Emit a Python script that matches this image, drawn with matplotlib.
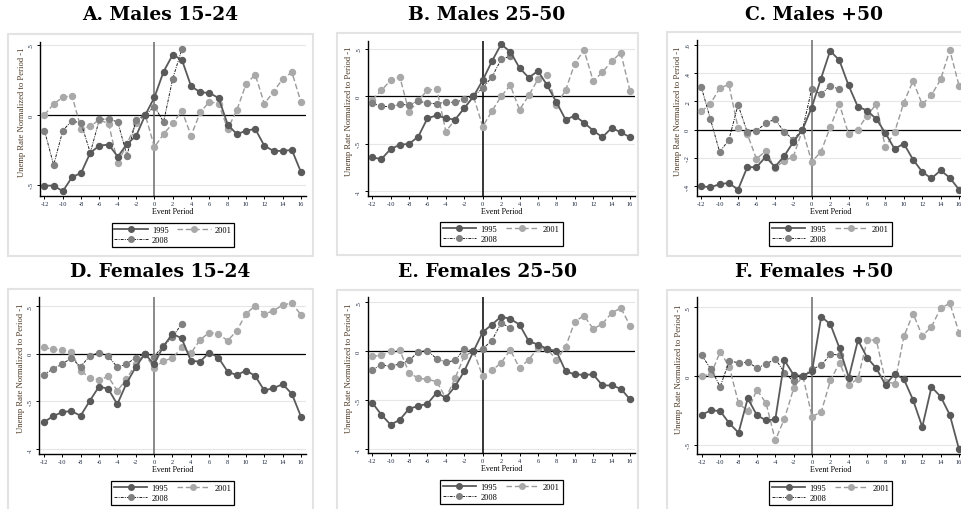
import matplotlib.pyplot as plt
from matplotlib.patches import Rectangle
from matplotlib.lines import Line2D

# --------- data --------------------------------
periods = [-12, -11, -10, -9, -8, -7, -6, -5, -4, -3, -2, -1, 0,
           1, 2, 3, 4, 5, 6, 7, 8, 9, 10, 11, 12, 13, 14, 15, 16]
periods_2008 = periods[:16]   # 2008 series stops at period 3

a_1995 = [-0.505, -0.505, -0.545, -0.445, -0.414, -0.27, -0.219, -0.212, -0.298, -0.207, -0.15, 0,
          0.126, 0.31, 0.43, 0.393, 0.205, 0.162, 0.157, 0.121, -0.069, -0.138, -0.112, -0.1,
          -0.221, -0.257, -0.257, -0.25, -0.41]
a_2001 = [0, 0.079, 0.126, 0.138, -0.1, -0.081, -0.033, -0.064, -0.345, -0.207, -0.06, 0,
          -0.23, -0.136, -0.06, 0.03, -0.148, 0.019, 0.095, 0.079, -0.1, 0.036, 0.221, 0.288,
          0.079, 0.167, 0.257, 0.305, 0.09]
a_2008 = [-0.112, -0.357, -0.112, -0.04, -0.06, -0.27, -0.03, -0.03, -0.05, -0.29, -0.035, 0,
          0.06, -0.05, 0.26, 0.47]

b_1995 = [-0.643, -0.66, -0.555, -0.509, -0.5, -0.424, -0.23, -0.2, -0.23, -0.244, -0.124, 0,
          0.17, 0.37, 0.55, 0.47, 0.3, 0.198, 0.268, 0.117, -0.06, -0.244, -0.205, -0.276,
          -0.36, -0.43, -0.332, -0.378, -0.43]
b_2001 = [-0.035, 0.064, 0.17, 0.205, -0.163, -0.042, 0.064, 0.081, -0.37, -0.244, -0.124, 0,
          -0.318, -0.155, 0, 0.117, -0.141, 0.01, 0.18, 0.223, -0.088, 0.064, 0.346, 0.488,
          0.163, 0.254, 0.37, 0.459, 0.057]
b_2008 = [-0.07, -0.106, -0.106, -0.085, -0.088, -0.05, -0.07, -0.077, -0.06, -0.064, -0.03, 0,
          0.088, 0.205, 0.389, 0.424]

c_1995 = [-0.399, -0.408, -0.385, -0.377, -0.424, -0.265, -0.265, -0.192, -0.263, -0.188, -0.087, 0,
          0.157, 0.36, 0.558, 0.492, 0.314, 0.164, 0.136, 0.077, -0.023, -0.136, -0.098, -0.211,
          -0.298, -0.345, -0.288, -0.34, -0.424]
c_2001 = [0.129, 0.183, 0.293, 0.321, 0.012, -0.03, -0.206, -0.152, -0.272, -0.22, -0.192, 0,
          -0.227, -0.157, 0.016, 0.183, -0.03, 0, 0.1, 0.18, -0.124, -0.019, 0.192, 0.345,
          0.18, 0.244, 0.356, 0.563, 0.312]
c_2008 = [0.305, 0.075, -0.157, -0.073, 0.176, -0.016, -0.007, 0.045, 0.075, -0.014, -0.07, 0,
          0.288, 0.251, 0.31, 0.286]

d_1995 = [-0.72, -0.655, -0.613, -0.6, -0.652, -0.495, -0.345, -0.366, -0.53, -0.31, -0.14, 0,
          -0.109, 0.077, 0.21, 0.165, -0.07, -0.084, 0.014, -0.039, -0.186, -0.224, -0.175, -0.231,
          -0.385, -0.36, -0.319, -0.42, -0.662]
d_2001 = [0.067, 0.049, 0.039, 0.021, -0.179, -0.249, -0.273, -0.238, -0.389, -0.266, -0.105, 0,
          -0.15, -0.074, -0.046, 0.067, 0.005, 0.147, 0.224, 0.214, 0.137, 0.242, 0.42, 0.505,
          0.42, 0.452, 0.515, 0.533, 0.41]
d_2008 = [-0.22, -0.158, -0.105, -0.046, -0.133, -0.025, 0.014, -0.021, -0.14, -0.109, -0.039, 0,
          -0.028, 0.084, 0.175, 0.315]

e_1995 = [-0.527, -0.65, -0.752, -0.701, -0.588, -0.561, -0.537, -0.425, -0.476, -0.36, -0.204, 0,
          0.194, 0.272, 0.354, 0.33, 0.272, 0.102, 0.068, 0.024, 0, -0.204, -0.238, -0.241,
          -0.238, -0.35, -0.35, -0.384, -0.493]
e_2001 = [-0.051, -0.044, 0, 0.01, -0.221, -0.276, -0.289, -0.31, -0.48, -0.276, -0.051, 0,
          -0.255, -0.197, -0.119, 0.014, -0.173, -0.085, 0.031, 0.024, -0.088, 0.041, 0.303, 0.364,
          0.228, 0.279, 0.391, 0.442, 0.262]
e_2008 = [-0.19, -0.139, -0.156, -0.129, -0.095, -0.007, 0.007, -0.078, -0.112, -0.095, 0.024, 0,
          0.024, 0.109, 0.289, 0.238]

f_1995 = [-0.282, -0.25, -0.255, -0.345, -0.413, -0.163, -0.286, -0.323, -0.316, 0.114, 0.007, 0,
          0.036, 0.432, 0.376, 0.201, -0.012, 0.262, 0.133, 0.056, -0.066, 0.017, -0.024, -0.175,
          -0.371, -0.08, -0.15, -0.284, -0.534]
f_2001 = [0, 0.012, 0.177, 0.066, -0.199, -0.255, -0.1, -0.199, -0.468, -0.311, -0.09, 0,
          -0.296, -0.262, -0.032, 0.097, -0.066, -0.019, 0.26, 0.262, -0.041, -0.056, 0.289, 0.454,
          0.291, 0.359, 0.493, 0.53, 0.316]
f_2008 = [0.15, 0.05, -0.078, 0.11, 0.096, 0.1, 0.06, 0.085, 0.126, 0.024, -0.04, 0,
          0.05, 0.078, 0.158, 0.153]

titles = ["A. Males 15-24", "B. Males 25-50", "C. Males +50",
          "D. Females 15-24", "E. Females 25-50", "F. Females +50"]
series = [(a_1995, a_2001, a_2008), (b_1995, b_2001, b_2008), (c_1995, c_2001, c_2008),
          (d_1995, d_2001, d_2008), (e_1995, e_2001, e_2008), (f_1995, f_2001, f_2008)]
yticks = [[-0.5, 0, 0.5], [-1, -0.5, 0, 0.5], [-0.4, -0.2, 0, 0.2, 0.4, 0.6],
          [-1, -0.5, 0, 0.5], [-1, -0.5, 0, 0.5], [-0.5, 0, 0.5]]
ylims = [(-0.579, 0.521), (-1.046, 0.587), (-0.467, 0.635),
         (-1.053, 0.598), (-1.044, 0.551), (-0.568, 0.573)]
xticks = [-12, -10, -8, -6, -4, -2, 0, 2, 4, 6, 8, 10, 12, 14, 16]

# --------- layout in pixels ----------
W, H = 961, 510
# axes rect: left, top, right, bottom
ax_px = [(40, 43, 306, 197), (367.7, 41.7, 635, 196.7), (696.7, 41, 964, 196.7),
         (39.3, 298, 306, 455), (367.7, 298.3, 635, 454.3), (697.3, 298.3, 964, 455)]
box_px = [(8, 35, 313, 257), (337, 34, 638, 256), (667, 33, 968, 257),
          (8, 290, 313, 512), (337, 291, 638, 512), (667, 291, 968, 512)]
title_px = [(160, 15), (487, 15), (814, 15), (160, 272), (487, 272), (814, 272)]
vline_col = ["#6a6a6a", "black", "#6a6a6a", "#6a6a6a", "black", "#6a6a6a"]

c95, c01, c08 = "#5a5a5a", "#a9a9a9", "#818181"
serif = "Liberation Serif"

fig = plt.figure(figsize=(W / 100, H / 100), dpi=100)


def fx(px):
    return px / W


def fy(py):
    return 1 - py / H


for i in range(6):
    bl, bt, br, bb = box_px[i]
    fig.patches.append(Rectangle((fx(bl), fy(bb)), fx(br - bl), (bb - bt) / H,
                                 transform=fig.transFigure, facecolor="white",
                                 edgecolor="#e3e3e3", lw=1.5, zorder=-1))
    tx, ty = title_px[i]
    fig.text(fx(tx), fy(ty), titles[i], ha="center", va="center",
             fontsize=13.5, fontweight="bold", family="DejaVu Serif")

    l, t, r, b = ax_px[i]
    ax = fig.add_axes([fx(l), fy(b), fx(r - l), (b - t) / H])
    ax.patch.set_alpha(0)
    y95, y01, y08 = series[i]

    ax.plot(periods, y95, color=c95, lw=1.3, marker="o", ms=4.3, mec=c95, mfc=c95, zorder=4)
    ax.plot(periods, y01, color="#9a9a9a", lw=1.0, ls=(0, (4, 2)), marker="o", ms=4.3,
            mec=c01, mfc=c01, zorder=3)
    ax.plot(periods_2008, y08, color="#222222", lw=0.7, ls=(0, (3, 1.2, 1, 1.2)), marker="o",
            ms=4.3, mec=c08, mfc=c08, zorder=3)

    ax.axhline(0, color="black", lw=0.9, zorder=2)
    ax.axvline(0, color=vline_col[i], lw=1.1, zorder=2)
    for yt in yticks[i]:
        if yt != 0:
            ax.axhline(yt, color="#e6e6e6", lw=0.8, zorder=1)

    ax.set_xlim(-12.49, 16.54)
    ax.set_ylim(*ylims[i])
    ax.set_xticks(xticks)
    ax.set_xticklabels([str(v) for v in xticks])
    ax.set_yticks(yticks[i])
    ax.set_yticklabels([("%g" % v).replace("0.", ".") for v in yticks[i]], rotation=90, va="center")
    for s in ["top", "right"]:
        ax.spines[s].set_visible(False)
    for s in ["left", "bottom"]:
        ax.spines[s].set_linewidth(1.0)
    ax.tick_params(axis="x", length=2.2, width=0.7, pad=1.5, labelsize=4.6, labelcolor="#1c2740")
    ax.tick_params(axis="y", length=2.2, width=0.7, pad=2.5, labelsize=4.6, labelcolor="#1c2740")
    for lab in ax.get_xticklabels() + ax.get_yticklabels():
        lab.set_family(serif)

    ax.set_ylabel("Unemp Rate Normalized to Period -1", fontsize=6.2, family=serif,
                  color="#4e3a26", va="center")
    ax.yaxis.set_label_coords(-18.3 / (r - l), 0.55)

    cx = (l + r) / 2
    fig.text(fx(cx), fy(b + 15), "Event Period", ha="center", va="center",
             fontsize=5.8, family=serif)

    handles = [
        Line2D([], [], color=c95, lw=1.3, marker="o", ms=4, mec=c95, mfc=c95),
        Line2D([], [], color="#222222", lw=0.7, ls=(0, (3, 1.2, 1, 1.2)), marker="o", ms=4,
               mec=c08, mfc=c08),
        Line2D([], [], color="#9a9a9a", lw=1.0, ls=(0, (4, 2)), marker="o", ms=4,
               mec=c01, mfc=c01),
    ]
    leg = fig.legend(handles, ["1995", "2008", "2001"], ncol=2, loc="upper center",
                     bbox_to_anchor=(fx(cx), fy(b + 22.5)), frameon=True, fancybox=False,
                     edgecolor="black", framealpha=1, prop={"family": serif, "size": 6},
                     handlelength=4.0, handletextpad=0.5, columnspacing=1.0,
                     labelspacing=0.25, borderpad=0.35)
    leg.get_frame().set_linewidth(0.9)

fig.savefig("out.png", dpi=100)
